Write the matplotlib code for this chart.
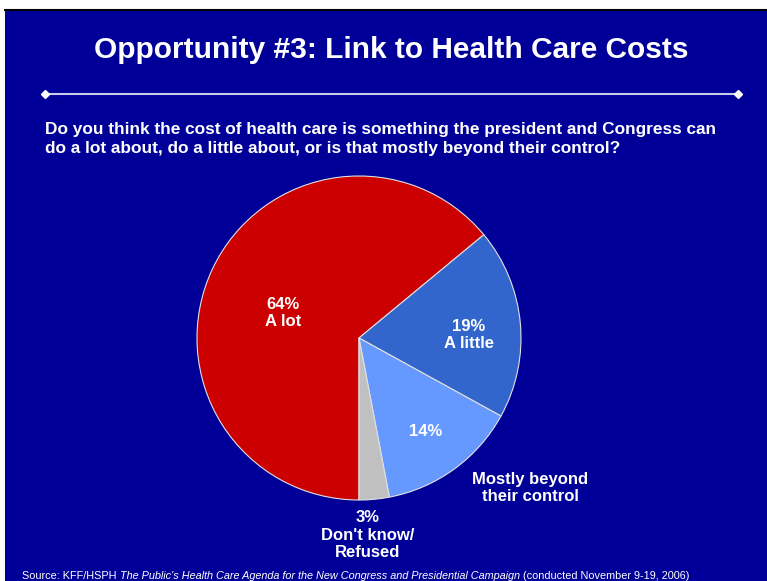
import matplotlib
matplotlib.use("Agg")
import matplotlib.pyplot as plt
from matplotlib.patches import Rectangle
from matplotlib.lines import Line2D

# ---- data ----
categories = ["A lot", "A little", "Mostly beyond\ntheir control", "Don't know/\nRefused"]
values = [64, 19, 14, 3]
colors = ["#CC0000", "#3366CC", "#6699FF", "#C0C0C0"]

title = "Opportunity #3: Link to Health Care Costs"
question = ("Do you think the cost of health care is something the president and Congress can\n"
            "do a lot about, do a little about, or is that mostly beyond their control?")

plt.rcParams['font.family'] = ['Liberation Sans', 'DejaVu Sans']

W, H = 767, 581
fig = plt.figure(figsize=(W / 100, H / 100), dpi=100, facecolor="white")

BG = "#000099"
def fx(x): return x / W
def fy(y): return 1 - y / H

# background panel
fig.patches.append(Rectangle((fx(5), 0), 1 - fx(5), fy(10), transform=fig.transFigure,
                             facecolor=BG, edgecolor="none", zorder=-5))
fig.add_artist(Line2D([fx(5), 1], [fy(9.5), fy(9.5)], color="black", lw=1.5,
                      transform=fig.transFigure, zorder=-4))

# title
fig.text(fx(391), fy(50), title, color="white", fontsize=21.5, fontweight="bold",
         ha="center", va="center")

# divider line with diamonds
fig.add_artist(Line2D([fx(45), fx(738)], [fy(94), fy(94)], color="#C8C8E8", lw=1.5,
                      transform=fig.transFigure))
for x in (45, 738):
    fig.add_artist(Line2D([fx(x)], [fy(94)], marker="D", markersize=4.5, color="white",
                          transform=fig.transFigure, lw=0))

# question
fig.text(fx(45), fy(139), question, color="white", fontsize=12.4, fontweight="bold",
         ha="left", va="center", linespacing=1.3)

# pie
cx, cy, r = 359, 338, 162
ax = fig.add_axes([fx(cx - r), fy(cy + r), 2 * r / W, 2 * r / H], zorder=2)
ax.set_facecolor("none")
ax.pie(values, colors=colors, startangle=270.0, counterclock=False, radius=1,
       wedgeprops=dict(edgecolor="#E0E0E0", linewidth=0.8))
ax.set_xlim(-1, 1)
ax.set_ylim(-1, 1)
ax.set_axis_off()

lab_kw = dict(color="white", fontsize=12, fontweight="bold", ha="center", va="center",
              linespacing=1.2, zorder=5)
fig.text(fx(283), fy(313), f"{values[0]}%\n{categories[0]}", **lab_kw)
fig.text(fx(469), fy(335), f"{values[1]}%\n{categories[1]}", **lab_kw)
fig.text(fx(426), fy(432), f"{values[2]}%", **lab_kw)
fig.text(fx(530), fy(488), categories[2], **lab_kw)
fig.text(fx(368), fy(535), f"{values[3]}%\n{categories[3]}", **lab_kw)

# source line with italic part
parts = [("Source: KFF/HSPH ", "normal"),
         ("The Public's Health Care Agenda for the New Congress and Presidential Campaign", "italic"),
         (" (conducted November 9-19, 2006)", "normal")]
fig.canvas.draw()
renderer = fig.canvas.get_renderer()
x = 22
for txt, style in parts:
    t = fig.text(fx(x), fy(576), txt, color="white", fontsize=7.85, fontstyle=style,
                 ha="left", va="center")
    bb = t.get_window_extent(renderer=renderer)
    x += bb.width

fig.savefig("out.png", dpi=100, facecolor=fig.get_facecolor())
